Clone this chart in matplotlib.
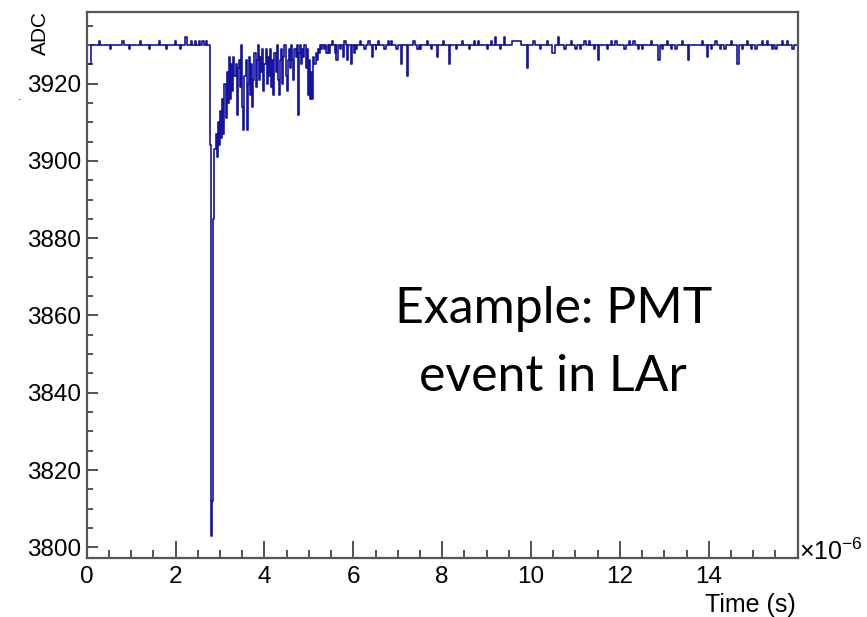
import numpy as np
import matplotlib
matplotlib.use("Agg")
import matplotlib.pyplot as plt
from matplotlib.ticker import MultipleLocator

# ---- data (time in microseconds, ADC counts) ----
t_pre = [0.00, 0.10, 0.28, 0.31, 0.52, 0.55, 0.80, 0.83, 0.95, 0.98, 1.20, 1.23,
         1.40, 1.43, 1.62, 1.65, 1.78, 1.81, 1.98, 2.01, 2.10, 2.13, 2.22, 2.25,
         2.35, 2.38, 2.44, 2.47, 2.52, 2.55, 2.60, 2.63, 2.68, 2.71]
adc_pre = [3925, 3930, 3931, 3930, 3929, 3930, 3931, 3930, 3929, 3930, 3931, 3930,
           3929, 3930, 3931, 3930, 3929, 3930, 3931, 3930, 3929, 3930, 3932, 3930,
           3931, 3930, 3931, 3930, 3931, 3930, 3931, 3930, 3931, 3930]

pulse_start_us = 2.775
pulse_step_us = 0.025
adc_pulse = [3904, 3803, 3812, 3885, 3903, 3907, 3901, 3910, 3904, 3913,
             3906, 3916, 3907, 3920, 3911, 3923, 3915, 3927, 3916, 3925,
             3918, 3927, 3922, 3925, 3912, 3924, 3926, 3919, 3930, 3914,
             3908, 3922, 3926, 3908, 3920, 3927, 3917, 3925, 3914, 3921,
             3928, 3919, 3926, 3930, 3921, 3927, 3923, 3929, 3918, 3925,
             3929, 3920, 3927, 3922, 3929, 3919, 3926, 3917, 3928, 3923,
             3930, 3921, 3917, 3926, 3929, 3920, 3927, 3930, 3922, 3918,
             3926, 3929, 3924, 3930, 3926, 3921, 3929, 3927, 3930, 3912,
             3928, 3930, 3925, 3929, 3927, 3930, 3924, 3929, 3917, 3926,
             3916, 3923, 3916, 3927, 3925, 3928, 3926, 3929, 3928, 3930,
             3929, 3930]

t_post = [5.33, 5.36, 5.39, 5.42, 5.45, 5.48, 5.52, 5.55, 5.58, 5.60, 5.62, 5.65,
          5.70, 5.73, 5.76, 5.78, 5.80, 5.83, 5.86, 5.89, 5.94, 5.97, 6.01, 6.03,
          6.05, 6.08, 6.15, 6.18, 6.25, 6.28, 6.34, 6.37, 6.42, 6.45, 6.50, 6.52,
          6.55, 6.58, 6.70, 6.73, 6.78, 6.81, 6.85, 6.88, 6.97, 7.00, 7.07, 7.10,
          7.20, 7.23, 7.35, 7.38, 7.44, 7.47, 7.50, 7.53, 7.65, 7.68, 7.75, 7.78,
          7.88, 7.91, 8.02, 8.05, 8.15, 8.18, 8.30, 8.33, 8.45, 8.48, 8.60, 8.63,
          8.72, 8.75, 8.80, 8.83, 9.00, 9.03, 9.10, 9.13, 9.19, 9.22, 9.30, 9.33,
          9.39, 9.42, 9.58, 9.78, 9.91, 9.94, 10.05, 10.08, 10.20, 10.23, 10.35, 10.38,
          10.48, 10.53, 10.60, 10.63, 10.75, 10.78, 10.90, 10.93, 11.00, 11.03, 11.10, 11.13,
          11.20, 11.23, 11.30, 11.33, 11.42, 11.45, 11.51, 11.54, 11.70, 11.73, 11.80, 11.83,
          11.90, 11.93, 12.10, 12.13, 12.20, 12.23, 12.30, 12.33, 12.40, 12.43, 12.50, 12.53,
          12.70, 12.73, 12.86, 12.90, 12.95, 12.98, 13.05, 13.08, 13.15, 13.18, 13.25, 13.28,
          13.40, 13.43, 13.53, 13.56, 13.85, 13.88, 13.96, 13.99, 14.05, 14.08, 14.15, 14.18,
          14.25, 14.28, 14.35, 14.38, 14.50, 14.53, 14.64, 14.67, 14.75, 14.78, 14.85, 14.88,
          14.95, 14.98, 15.05, 15.08, 15.20, 15.23, 15.30, 15.33, 15.42, 15.45, 15.50, 15.53,
          15.65, 15.68, 15.75, 15.78, 15.88, 15.91, 16.00]
adc_post = [3929, 3930, 3928, 3930, 3928, 3930, 3931, 3930, 3928, 3930, 3926, 3930,
            3929, 3930, 3927, 3930, 3931, 3930, 3926, 3930, 3925, 3930, 3928, 3930,
            3929, 3930, 3931, 3930, 3929, 3930, 3931, 3930, 3927, 3930, 3929, 3930,
            3931, 3930, 3929, 3930, 3931, 3930, 3931, 3930, 3929, 3930, 3925, 3930,
            3922, 3930, 3931, 3930, 3929, 3930, 3929, 3930, 3931, 3930, 3929, 3930,
            3927, 3930, 3931, 3930, 3925, 3930, 3929, 3930, 3931, 3930, 3929, 3930,
            3931, 3930, 3931, 3930, 3929, 3930, 3931, 3930, 3932, 3930, 3929, 3930,
            3932, 3930, 3931, 3930, 3924, 3930, 3931, 3930, 3929, 3930, 3931, 3930,
            3928, 3930, 3932, 3930, 3929, 3930, 3931, 3930, 3929, 3930, 3929, 3930,
            3931, 3930, 3931, 3930, 3929, 3930, 3926, 3930, 3929, 3930, 3931, 3930,
            3931, 3930, 3929, 3930, 3931, 3930, 3931, 3930, 3929, 3930, 3929, 3930,
            3931, 3930, 3926, 3930, 3929, 3930, 3931, 3930, 3929, 3930, 3929, 3930,
            3931, 3930, 3926, 3930, 3931, 3930, 3927, 3930, 3929, 3930, 3931, 3930,
            3929, 3930, 3929, 3930, 3931, 3930, 3925, 3930, 3929, 3930, 3931, 3930,
            3929, 3930, 3929, 3930, 3931, 3930, 3931, 3930, 3929, 3930, 3929, 3930,
            3931, 3930, 3931, 3930, 3929, 3930, 3930]

x_ticks = [0, 2, 4, 6, 8, 10, 12, 14]
y_ticks = [3800, 3820, 3840, 3860, 3880, 3900, 3920]

# ---- assemble ----
t_pulse = list(np.round(pulse_start_us + pulse_step_us * np.arange(len(adc_pulse)), 4))
t_all = np.array(t_pre + t_pulse + t_post)
adc_all = np.array(adc_pre + adc_pulse + adc_post)

plt.rcParams['font.family'] = ['Liberation Sans', 'DejaVu Sans']
plt.rcParams['mathtext.default'] = 'regular'

fig = plt.figure(figsize=(8.67, 6.17), dpi=100)
ax = fig.add_axes([0.100, 0.096, 0.820, 0.885])

ax.step(t_all, adc_all, where='post', color='#1414a0', lw=1.2)

ax.set_xlim(0, 16)
ax.set_ylim(3797.3, 3938.6)
ax.set_xticks(x_ticks)
ax.set_yticks(y_ticks)
ax.xaxis.set_minor_locator(MultipleLocator(0.5))
ax.yaxis.set_minor_locator(MultipleLocator(5))
ax.tick_params(axis='both', which='both', direction='in', top=False, right=False,
               color='#333333', width=1.2)
ax.tick_params(axis='x', which='major', length=12, labelsize=17.5, pad=6)
ax.tick_params(axis='x', which='minor', length=6)
ax.tick_params(axis='y', which='major', length=8, labelsize=17.5, pad=4)
ax.tick_params(axis='y', which='minor', length=4)
for s in ax.spines.values():
    s.set_color('#555555')
    s.set_linewidth(1.6)

fig.text(0.047, 0.982, 'ADC', rotation=90, ha='center', va='top', fontsize=15)
fig.text(0.918, 0.019, 'Time (s)', ha='right', va='center', fontsize=18)
fig.text(0.921, 0.106, r'$\times 10^{-6}$', ha='left', va='center', fontsize=18)
fig.text(0.022, 0.842, '.', ha='center', va='center', fontsize=9)

fig.text(0.638, 0.444, 'Example: PMT\nevent in LAr', ha='center', va='center',
         fontsize=36, family=['Lato', 'DejaVu Sans'], linespacing=1.6)

fig.savefig('out.png', dpi=100)
